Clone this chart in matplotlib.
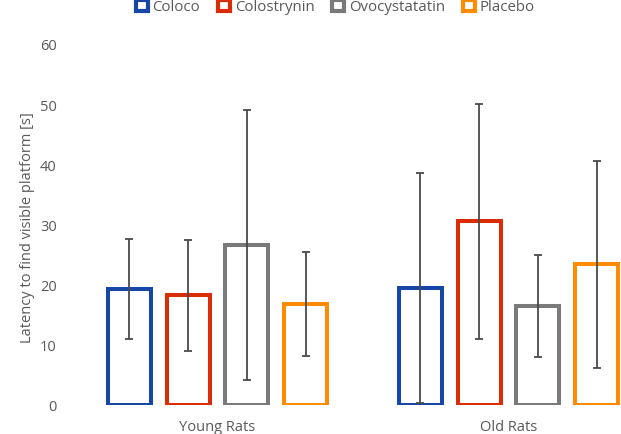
import numpy as np
import matplotlib.pyplot as plt
from matplotlib.patches import Patch

plt.rcParams['font.family'] = ['Open Sans', 'DejaVu Sans']

groups = ['Young Rats', 'Old Rats']
treatments = ['Coloco', 'Colostrynin', 'Ovocystatatin', 'Placebo']
colors = ['#1747A6', '#D92D06', '#7A7A7A', '#FF8C00']

# mean latency [s] per treatment, for Young / Old
means = {
    'Coloco': [19.3, 19.4],
    'Colostrynin': [18.2, 30.5],
    'Ovocystatatin': [26.6, 16.5],
    'Placebo': [16.8, 23.4],
}
errs = {
    'Coloco': [8.3, 19.1],
    'Colostrynin': [9.2, 19.5],
    'Ovocystatatin': [22.5, 8.5],
    'Placebo': [8.6, 17.2],
}

txt = '#595959'

fig = plt.figure(figsize=(6.21, 4.35), dpi=100)
ax = fig.add_axes([72 / 621, 29 / 435, 1 - 72 / 621, (406 - 45) / 435])

x = np.arange(len(groups))
step = 0.2017
width = 0.148
for i, t in enumerate(treatments):
    pos = x + (i - 1.5) * step
    ax.bar(pos, means[t], width, facecolor='white', edgecolor=colors[i],
           linewidth=2.9, zorder=2)
    ax.errorbar(pos, means[t], yerr=errs[t], fmt='none', ecolor='#4a4a4a',
                elinewidth=1.3, capsize=2.8, capthick=1.3, zorder=3)

ax.set_xlim(-0.5, (621 - 72) / 291 - 0.5)
ax.set_ylim(0, 60)
ax.set_yticks(range(0, 61, 10))
ax.set_xticks(x)
ax.set_xticklabels(groups)
ax.tick_params(axis='y', length=0, pad=11, labelsize=10.5, labelcolor=txt)
ax.tick_params(axis='x', length=0, pad=10, labelsize=10.5, labelcolor=txt)
for s in ax.spines.values():
    s.set_visible(False)

fig.text(28 / 621, 1 - 228 / 435, 'Latency to find visible platform [s]',
         rotation=90, ha='center', va='center', fontsize=10.5, color=txt)

handles = [Patch(facecolor='white', edgecolor=c, linewidth=3.0) for c in colors]
fig.legend(handles, treatments, loc='upper center', bbox_to_anchor=(0.54, 1.03),
           ncol=4, frameon=False, handlelength=0.8, handleheight=0.8,
           handletextpad=0.3, columnspacing=1.2, fontsize=10.8, labelcolor=txt)

fig.savefig('out.png', dpi=100)
